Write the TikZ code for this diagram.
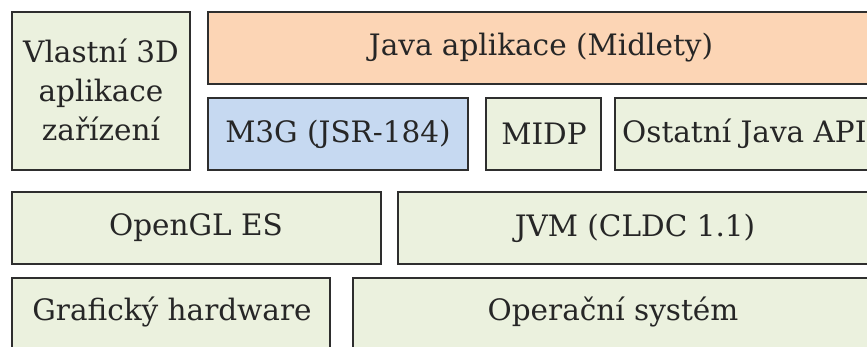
\documentclass[tikz,border=0pt]{standalone}
\usepackage{fontspec}
\setmainfont{DejaVu Serif}
\definecolor{grn}{HTML}{EBF1DE}
\definecolor{org}{HTML}{FCD5B5}
\definecolor{blu}{HTML}{C6D9F1}
\definecolor{edge}{HTML}{2E2E2E}
\definecolor{txt}{HTML}{262626}
\tikzset{
  blk/.style={draw=edge, line width=1.6pt, fill=grn},
  lbl/.style={font=\fontsize{29.5}{39}\selectfont, text=txt, inner sep=0pt}
}
\begin{document}
\begin{tikzpicture}[x=1pt,y=-1pt]
\useasboundingbox[fill=white] (0,0) rectangle (867,347);
\clip (0,0) rectangle (867,347);
% boxes
\draw[blk] (12,12) rectangle (190,170);
\node[lbl, align=center] (vl) at (101,90) {Vlastní 3D\\aplikace\\zařízení};
\draw[blk, fill=org] (208,12) rectangle (875,84);
\node[lbl] (ja) at (541,48) {Java aplikace (Midlety)};
\draw[blk, fill=blu] (208,98) rectangle (468,170);
\node[lbl] (m3g) at (338,134) {M3G (JSR-184)};
\draw[blk] (486,98) rectangle (601,170);
\node[lbl] (midp) at (544,134) {MIDP};
\draw[blk] (615,98) rectangle (900,170);
\node[lbl, anchor=west] (ost) at (622,134) {Ostatní Java API};
\draw[blk] (12,192) rectangle (381,264);
\node[lbl] (gl) at (196,228) {OpenGL ES};
\draw[blk] (398,192) rectangle (900,264);
\node[lbl] (jvm) at (635,228) {JVM (CLDC 1.1)};
\draw[blk] (12,278) rectangle (330,360);
\node[lbl] (gh) at (172,312) {Grafický hardware};
\draw[blk] (353,278) rectangle (900,360);
\node[lbl] (os) at (613,312) {Operační systém};
\end{tikzpicture}
\end{document}
